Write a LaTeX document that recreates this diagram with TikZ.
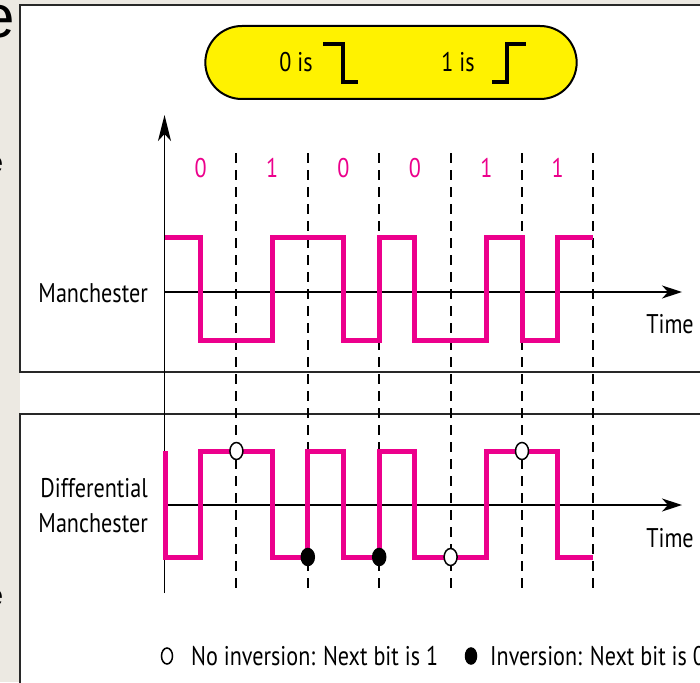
\documentclass[tikz,border=0pt]{standalone}
\usepackage{fontspec}
\setmainfont[FakeStretch=0.82]{PT Sans}
\newfontfamily\slidefont{Liberation Sans}
\usetikzlibrary{arrows.meta,shapes.geometric,shapes.misc}
\definecolor{mag}{RGB}{236,0,140}
\definecolor{beige}{RGB}{236,233,226}
\definecolor{framecol}{RGB}{40,40,40}
\begin{document}
\begin{tikzpicture}[x=1pt,y=-1pt,
  lbl/.style={font=\fontsize{27}{30}\selectfont, inner sep=0pt, anchor=base},
  bitlbl/.style={lbl, text=mag},
  wave/.style={mag, line width=5pt, line join=miter, line cap=butt},
  dashline/.style={black, line width=2pt, dash pattern=on 10pt off 7pt},
  axisline/.style={black, line width=1.6pt},
  framel/.style={draw=framecol, line width=2pt},
  hollow/.style={ellipse, draw=black, fill=white, line width=1.5pt, minimum width=13pt, minimum height=17pt, inner sep=0pt},
  soliddot/.style={ellipse, draw=black, fill=black, line width=1.5pt, minimum width=13pt, minimum height=17pt, inner sep=0pt},
  striptext/.style={inner sep=0pt, anchor=base east, text=black},
]
\useasboundingbox (0,0) rectangle (700,682);
\clip (0,0) rectangle (700,682);
\fill[beige] (0,0) rectangle (700,682);
\fill[white] (19.5,5) rectangle (700,682);
% fragments of slide text in the left strip (cut off as in the reference)
\begin{scope}
\clip (0,0) rectangle (18.5,682);
\node[striptext, font=\slidefont\fontsize{60}{60}\selectfont] (e1) at (15.5,38) {e};
\node[striptext, font=\slidefont\fontsize{29}{29}\selectfont] (e2) at (3.5,172) {e};
\node[striptext, font=\slidefont\fontsize{29}{29}\selectfont] (e3) at (3.5,605) {e};
\end{scope}
% panel frames
\draw[framel] (700,5) -- (19.5,5) -- (19.5,372) -- (700,372);
\draw[framel] (700,414) -- (19.5,414) -- (19.5,690);
% key box
\node[rounded rectangle, draw=black, fill=yellow, line width=2pt, minimum width=378pt, minimum height=73pt] (key) at (391,62.5) {};
\node[lbl] (k0) at (296,72) {0 is};
\node[lbl] (k1) at (458,72) {1 is};
\draw[line width=4pt] (323,44) -| (343,82) -- (358,82);
\draw[line width=4pt] (492,82) -| (507,44) -- (526,44);
% dashed bit boundaries
\foreach \x in {236.4,307.8,379.2,450.6,522,593.4}
  \draw[dashline] (\x,153) -- (\x,593);
% axes
\coordinate (vbot) at (164.5,593);
\coordinate (vtop) at (164.5,115);
\draw[axisline, -{Stealth[length=26pt,width=13pt,inset=7pt]}] (vbot) -- (vtop);
\coordinate (m0) at (165,292);
\coordinate (m1) at (682,292);
\coordinate (d0) at (165,505);
\coordinate (d1) at (682,505);
\draw[axisline, -{Stealth[length=20pt,width=13pt,inset=6pt]}] (m0) -- (m1);
\draw[axisline, -{Stealth[length=20pt,width=13pt,inset=6pt]}] (d0) -- (d1);
% bit labels
\foreach \x/\b in {200.7/0,272.1/1,343.5/0,414.9/0,486.3/1,557.7/1}
  \node[bitlbl] at (\x,177) {\b};
% labels
\node[lbl, anchor=base east] (lman) at (148,302) {Manchester};
\node[lbl, anchor=base east] (ldif1) at (148,497) {Differential};
\node[lbl, anchor=base east] (ldif2) at (148,532) {Manchester};
\node[lbl] (t1) at (670,333) {Time};
\node[lbl] (t2) at (670,547) {Time};
% Manchester waveform
\draw[wave] (165,237) -- (200.7,237) -- (200.7,340) -- (272.1,340) -- (272.1,237)
  -- (343.5,237) -- (343.5,340) -- (379.2,340) -- (379.2,237) -- (414.9,237)
  -- (414.9,340) -- (486.3,340) -- (486.3,237) -- (522,237) -- (522,340)
  -- (557.7,340) -- (557.7,237) -- (593.4,237);
% Differential Manchester waveform
\draw[wave] (165,451) -- (165,557) -- (200.7,557) -- (200.7,451) -- (272.1,451)
  -- (272.1,557) -- (307.8,557) -- (307.8,451) -- (343.5,451) -- (343.5,557)
  -- (379.2,557) -- (379.2,451) -- (414.9,451) -- (414.9,557) -- (486.3,557)
  -- (486.3,451) -- (557.7,451) -- (557.7,557) -- (593.4,557);
% transition markers
\node[hollow] (c1) at (236.4,451) {};
\node[soliddot] (c2) at (307.8,557) {};
\node[soliddot] (c3) at (379.2,557) {};
\node[hollow] (c4) at (450.6,557) {};
\node[hollow] (c5) at (522,451) {};
% legend
\node[hollow, minimum width=11pt, minimum height=16pt] (lg1) at (167,656) {};
\node[lbl, anchor=base west] (lgt1) at (191,665) {No inversion: Next bit is 1};
\node[soliddot, minimum width=11pt, minimum height=16pt] (lg2) at (471,656) {};
\node[lbl, anchor=base west] (lgt2) at (490,665) {Inversion: Next bit is 0};
\end{tikzpicture}
\end{document}
